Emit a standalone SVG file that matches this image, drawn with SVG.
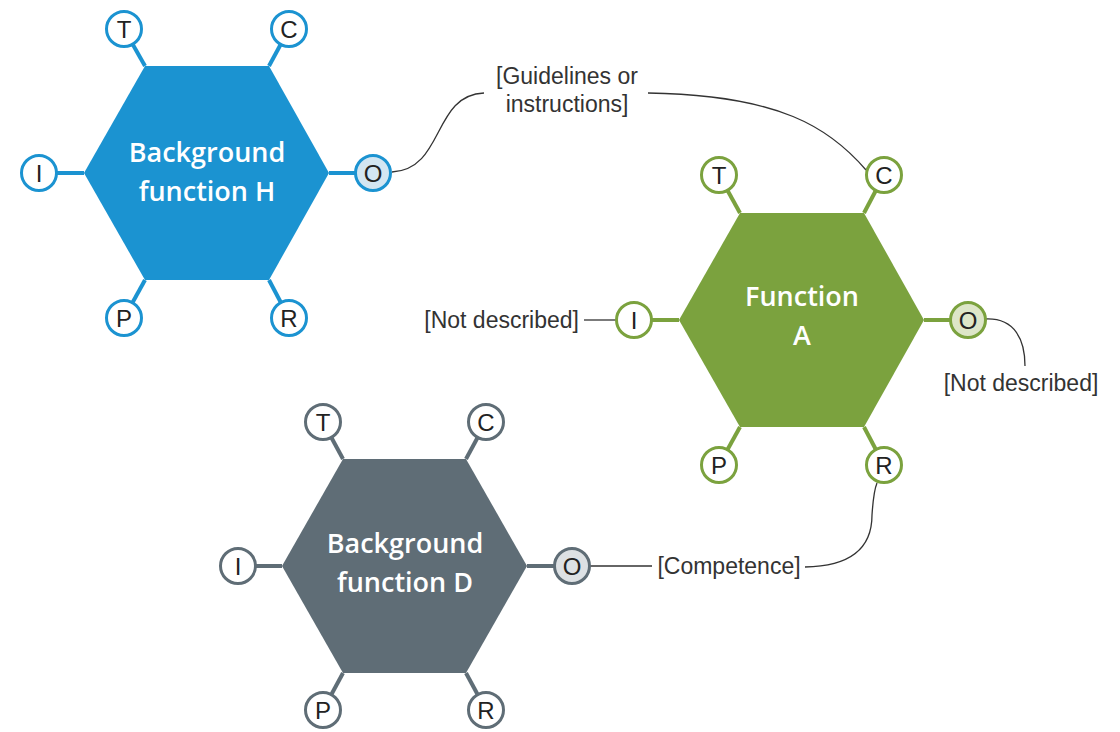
<svg xmlns="http://www.w3.org/2000/svg" width="1120" height="732" viewBox="0 0 1120 732">
<style>
.hex-title{font-family:"Open Sans","Liberation Sans",Arial,sans-serif;font-weight:600;font-size:27px;fill:#ffffff;text-anchor:middle}
.port{fill:#ffffff;stroke-width:3}
.port-label{font-family:"Liberation Sans",Arial,sans-serif;font-size:24px;fill:#222222;text-anchor:middle}
.stub{stroke-width:4;fill:none}
.ann{font-family:"Liberation Sans",Arial,sans-serif;font-size:23px;fill:#333333}
.conn{fill:none;stroke:#333333;stroke-width:1.3}
.blue .hex{fill:#1b93d1}.blue .stub,.blue .port{stroke:#1b93d1}.blue .out{fill:#d3e6f2}
.green .hex{fill:#7ba23e}.green .stub,.green .port{stroke:#7ba23e}.green .out{fill:#dde6c8}
.grey .hex{fill:#5f6d76}.grey .stub,.grey .port{stroke:#5f6d76}.grey .out{fill:#dde1e4}
</style>
<rect width="1120" height="732" fill="#ffffff"/>

<g id="connectors">
<path class="conn" d="M392,172 C445,169 432,95 484,93"/>
<path class="conn" d="M648,93 C780,95 830,128 866,170"/>
<path class="conn" d="M584,320 L616,320"/>
<path class="conn" d="M986,319 C1015,318 1025,340 1025,366"/>
<path class="conn" d="M590,566 L652,566"/>
<path class="conn" d="M805,567 C868,566 872,532 872,515 C873,500 874,490 877,483"/>
</g>

<g id="function-H" class="blue">
<line class="stub" x1="145" y1="66" x2="124" y2="29"/>
<line class="stub" x1="269" y1="66" x2="289" y2="29"/>
<line class="stub" x1="84" y1="173" x2="39" y2="173"/>
<line class="stub" x1="329" y1="173" x2="373" y2="173"/>
<line class="stub" x1="145" y1="280" x2="124" y2="318"/>
<line class="stub" x1="269" y1="280" x2="289" y2="318"/>
<polygon class="hex" points="84,173 145,66 269,66 329,173 269,280 145,280"/>
<text class="hex-title" x="207" y="162">Background</text>
<text class="hex-title" x="207" y="201">function H</text>
<circle class="port" cx="124" cy="29" r="17.5"/><text class="port-label" x="124" y="37.5">T</text>
<circle class="port" cx="289" cy="29" r="17.5"/><text class="port-label" x="289" y="37.5">C</text>
<circle class="port" cx="39" cy="173" r="17.5"/><text class="port-label" x="39" y="181.5">I</text>
<circle class="port out" cx="373" cy="173" r="17.5"/><text class="port-label" x="373" y="181.5">O</text>
<circle class="port" cx="124" cy="318" r="17.5"/><text class="port-label" x="124" y="326.5">P</text>
<circle class="port" cx="289" cy="318" r="17.5"/><text class="port-label" x="289" y="326.5">R</text>
</g>

<g id="function-A" class="green">
<line class="stub" x1="740" y1="213" x2="719" y2="175"/>
<line class="stub" x1="864" y1="213" x2="884" y2="175"/>
<line class="stub" x1="679" y1="320" x2="634" y2="320"/>
<line class="stub" x1="924" y1="320" x2="968" y2="320"/>
<line class="stub" x1="740" y1="427" x2="719" y2="465"/>
<line class="stub" x1="864" y1="427" x2="884" y2="465"/>
<polygon class="hex" points="679,320 740,213 864,213 924,320 864,427 740,427"/>
<text class="hex-title" x="802" y="306">Function</text>
<text class="hex-title" x="802" y="345">A</text>
<circle class="port" cx="719" cy="175" r="17.5"/><text class="port-label" x="719" y="183.5">T</text>
<circle class="port" cx="884" cy="175" r="17.5"/><text class="port-label" x="884" y="183.5">C</text>
<circle class="port" cx="634" cy="320" r="17.5"/><text class="port-label" x="634" y="328.5">I</text>
<circle class="port out" cx="968" cy="320" r="17.5"/><text class="port-label" x="968" y="328.5">O</text>
<circle class="port" cx="719" cy="465" r="17.5"/><text class="port-label" x="719" y="473.5">P</text>
<circle class="port" cx="884" cy="465" r="17.5"/><text class="port-label" x="884" y="473.5">R</text>
</g>

<g id="function-D" class="grey">
<line class="stub" x1="343" y1="459" x2="323" y2="422"/>
<line class="stub" x1="466" y1="459" x2="486" y2="422"/>
<line class="stub" x1="282" y1="566" x2="238" y2="566"/>
<line class="stub" x1="527" y1="566" x2="572" y2="566"/>
<line class="stub" x1="343" y1="673" x2="323" y2="710"/>
<line class="stub" x1="466" y1="673" x2="486" y2="710"/>
<polygon class="hex" points="282,566 343,459 466,459 527,566 466,673 343,673"/>
<text class="hex-title" x="405" y="553">Background</text>
<text class="hex-title" x="405" y="592">function D</text>
<circle class="port" cx="323" cy="422" r="17.5"/><text class="port-label" x="323" y="430.5">T</text>
<circle class="port" cx="486" cy="422" r="17.5"/><text class="port-label" x="486" y="430.5">C</text>
<circle class="port" cx="238" cy="566" r="17.5"/><text class="port-label" x="238" y="574.5">I</text>
<circle class="port out" cx="572" cy="566" r="17.5"/><text class="port-label" x="572" y="574.5">O</text>
<circle class="port" cx="323" cy="710" r="17.5"/><text class="port-label" x="323" y="718.5">P</text>
<circle class="port" cx="486" cy="710" r="17.5"/><text class="port-label" x="486" y="718.5">R</text>
</g>

<g id="labels">
<text class="ann" x="567" y="84" text-anchor="middle">[Guidelines or</text>
<text class="ann" x="567" y="112" text-anchor="middle">instructions]</text>
<text class="ann" x="579" y="328" text-anchor="end">[Not described]</text>
<text class="ann" x="1021" y="391" text-anchor="middle">[Not described]</text>
<text class="ann" x="729" y="574" text-anchor="middle">[Competence]</text>
</g>
</svg>
